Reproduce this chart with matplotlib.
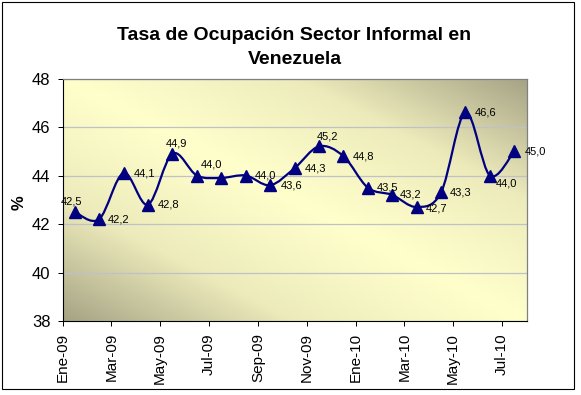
import numpy as np
import matplotlib
matplotlib.use('Agg')
import matplotlib.pyplot as plt
import matplotlib.transforms as mtransforms
from matplotlib.path import Path
from matplotlib.patches import PathPatch, Rectangle
from matplotlib.colors import LinearSegmentedColormap

# datos: tasa de ocupación en el sector informal (%)
meses = ['Ene-09', 'Feb-09', 'Mar-09', 'Abr-09', 'May-09', 'Jun-09', 'Jul-09',
         'Ago-09', 'Sep-09', 'Oct-09', 'Nov-09', 'Dic-09', 'Ene-10', 'Feb-10',
         'Mar-10', 'Abr-10', 'May-10', 'Jun-10', 'Jul-10']
valores = [42.5, 42.2, 44.1, 42.8, 44.9, 44.0, 43.9, 44.0, 43.6, 44.3,
           45.2, 44.8, 43.5, 43.2, 42.7, 43.3, 46.6, 44.0, 45.0]
etiquetas_x = meses[::2]

# desplazamiento (pixeles) de cada etiqueta de dato, None = sin etiqueta
desplaz = [(-14, 10), (9, 0), (10, 0), (10, 0), (-7, 10), (4, 11), None,
           (9, 0), (11, 0), (10, 0), (-2, 10), (9, 0), (9, 0), (8, 0),
           (9, -1), (9, 0), (9, 0), (6, -8), (10, 0)]

plt.rcParams['font.family'] = ['Liberation Sans', 'DejaVu Sans']

W, H = 581, 395
fig = plt.figure(figsize=(W / 100, H / 100), dpi=100)
fig.patch.set_facecolor('white')

ax = fig.add_axes([62.5 / W, 74 / H, 464 / W, 242.5 / H])

# fondo degradado del area de trazado
g = np.linspace(0, 1, 300)
X, Y = np.meshgrid(g, g)
sombra = np.abs(X + Y - 1)
cmap = LinearSegmentedColormap.from_list('fondo', ['#FFFFCC', '#EDEBBB', '#A6A385'])
ax.imshow(sombra, cmap=cmap, vmin=0, vmax=1, extent=(0, 1, 0, 1), origin='lower',
          transform=ax.transAxes, aspect='auto', zorder=0, interpolation='bilinear')

n = len(valores)
x = np.arange(n) + 0.5
y = np.array(valores)

# linea suavizada (bezier tipo Excel)
pts = np.column_stack([x, y])
verts = [pts[0]]
codes = [Path.MOVETO]
for i in range(n - 1):
    p0 = pts[max(i - 1, 0)]
    p1 = pts[i]
    p2 = pts[i + 1]
    p3 = pts[min(i + 2, n - 1)]
    verts += [p1 + (p2 - p0) / 6, p2 - (p3 - p1) / 6, p2]
    codes += [Path.CURVE4] * 3
ax.add_patch(PathPatch(Path(verts, codes), fill=False, ec='#000080', lw=1.6, zorder=3))
ax.plot(x, y, ls='none', marker='^', ms=9, color='#000080', zorder=4)

for xi, v, d in zip(x, valores, desplaz):
    if d is None:
        continue
    ax.annotate(f'{v:.1f}'.replace('.', ','), (xi, v), xytext=d,
                textcoords='offset pixels', ha='left', va='center',
                fontsize=8, color='black', zorder=5)

ax.set_xlim(0, n)
ax.set_ylim(38, 48)
ax.set_yticks(np.arange(38, 49, 2))
ax.set_xticks(np.arange(0, n, 2))
ax.set_xticklabels(etiquetas_x, rotation=90, va='top', ha='center')
desp = mtransforms.ScaledTranslation(0.09, 0, fig.dpi_scale_trans)
for lbl in ax.get_xticklabels():
    lbl.set_transform(lbl.get_transform() + desp)

ax.set_axisbelow(True)
ax.yaxis.grid(True, color='#C0C0C8', lw=0.9)
ax.tick_params(direction='out', length=3.6, width=0.72, labelsize=11, pad=5)
ax.tick_params(axis='y', labelsize=12)

for lado in ['top', 'right']:
    ax.spines[lado].set_color('#808080')
    ax.spines[lado].set_linewidth(0.9)
for lado in ['left', 'bottom']:
    ax.spines[lado].set_color('black')
    ax.spines[lado].set_linewidth(0.8)

fig.text(19 / W, 1 - 203 / H, '%', rotation=90, ha='center', va='center',
         fontsize=12, fontweight='bold')

fig.text(294.5 / W, 1 - 35 / H, 'Tasa de Ocupación Sector Informal en', ha='center',
         va='center', fontsize=14, fontweight='bold')
fig.text(294.5 / W, 1 - 59 / H, 'Venezuela', ha='center', va='center',
         fontsize=14, fontweight='bold')

fig.add_artist(Rectangle((2 / W, 6 / H), 572 / W, 387 / H, transform=fig.transFigure,
                         fill=False, ec='black', lw=0.8))

fig.savefig('out.png', dpi=100)
